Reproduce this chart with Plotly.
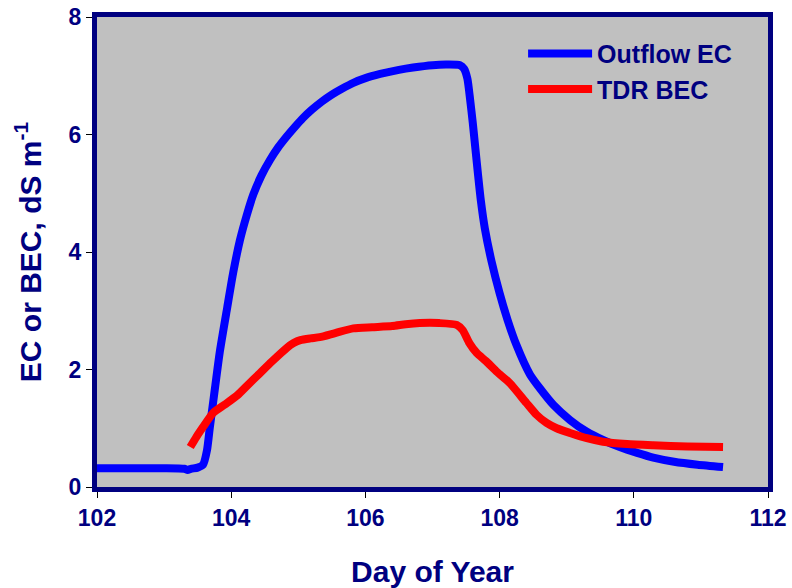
import plotly.graph_objects as go

# Outflow electrical conductivity (dS/m) by day of year
outflow_day = [102.0, 102.5, 103.0, 103.3, 103.35, 103.4, 103.5, 103.58, 103.64, 103.68,
               103.72, 103.76, 103.83, 103.94, 104.03, 104.13, 104.23, 104.33, 104.45, 104.58,
               104.7, 104.83, 104.95, 105.07, 105.2, 105.35, 105.5, 105.65, 105.82, 106.0,
               106.22, 106.5, 106.71, 107.0, 107.2, 107.41, 107.47, 107.52, 107.56, 107.6,
               107.64, 107.68, 107.72, 107.78, 107.88, 108.0, 108.12, 108.25, 108.45, 108.6,
               108.8, 109.05, 109.3, 109.54, 109.79, 110.05, 110.29, 110.6, 110.95, 111.33]
outflow_ec = [0.32, 0.32, 0.32, 0.31, 0.29, 0.31, 0.33, 0.38, 0.63, 1.0,
              1.35, 1.7, 2.3, 3.05, 3.65, 4.2, 4.62, 4.98, 5.3, 5.57,
              5.78, 5.97, 6.13, 6.28, 6.42, 6.56, 6.68, 6.78, 6.88, 6.96,
              7.03, 7.10, 7.14, 7.18, 7.19, 7.18, 7.12, 6.95, 6.6, 6.2,
              5.75, 5.3, 4.88, 4.4, 3.84, 3.30, 2.84, 2.42, 1.92, 1.68,
              1.40, 1.14, 0.94, 0.80, 0.68, 0.58, 0.50, 0.43, 0.38, 0.34]

# TDR bulk electrical conductivity (dS/m) by day of year
tdr_day = [103.39, 103.48, 103.58, 103.73, 103.9, 104.09, 104.25, 104.43, 104.6, 104.83,
           104.93, 105.03, 105.18, 105.32, 105.55, 105.82, 106.1, 106.4, 106.6, 106.81,
           107.1, 107.36, 107.45, 107.55, 107.66, 107.8, 107.96, 108.15, 108.4, 108.55,
           108.7, 108.85, 109.05, 109.3, 109.54, 109.9, 110.29, 110.8, 111.33]
tdr_bec = [0.68, 0.85, 1.02, 1.26, 1.40, 1.56, 1.74, 1.94, 2.13, 2.37,
           2.45, 2.50, 2.53, 2.55, 2.62, 2.70, 2.72, 2.74, 2.77, 2.79,
           2.79, 2.76, 2.67, 2.45, 2.28, 2.14, 1.96, 1.77, 1.43, 1.23,
           1.09, 1.00, 0.92, 0.83, 0.77, 0.73, 0.71, 0.69, 0.68]

x_ticks = [102, 104, 106, 108, 110, 112]
y_ticks = [0, 2, 4, 6, 8]

NAVY = "#000080"
FONT = "Liberation Sans, Arial, sans-serif"

fig = go.Figure()
fig.add_trace(go.Scatter(x=outflow_day, y=outflow_ec, mode="lines", name="Outflow EC",
                         line=dict(color="#0000FF", width=8, shape="spline", smoothing=0.6)))
fig.add_trace(go.Scatter(x=tdr_day, y=tdr_bec, mode="lines", name="TDR BEC",
                         line=dict(color="#FF0000", width=8, shape="spline", smoothing=0.6)))

axis_common = dict(showline=True, linecolor=NAVY, linewidth=5, mirror=True,
                   ticks="outside", ticklen=6, tickwidth=1, tickcolor="black",
                   showgrid=False, zeroline=False, automargin=False,
                   tickfont=dict(family=FONT, size=23, color=NAVY, weight="bold"))

fig.update_xaxes(range=[102, 112], tickvals=x_ticks,
                 title=dict(text="Day of Year", standoff=34,
                            font=dict(family=FONT, size=30, color=NAVY, weight="bold")),
                 **axis_common)
fig.update_yaxes(range=[0, 8], tickvals=y_ticks,
                 title=dict(text="EC or BEC, dS m<sup>-1</sup>", standoff=20,
                            font=dict(family=FONT, size=30, color=NAVY, weight="bold")),
                 **axis_common)

fig.update_layout(
    width=792, height=588,
    margin=dict(l=97, r=24, t=17, b=101),
    paper_bgcolor="white", plot_bgcolor="#C0C0C0",
    showlegend=True,
    legend=dict(x=0.635, y=0.971, xanchor="left", yanchor="top",
                bgcolor="rgba(0,0,0,0)", borderwidth=0, itemwidth=64,
                font=dict(family=FONT, size=25, color=NAVY, weight="bold"),
                tracegroupgap=0),
)

fig.write_html("out.html")
